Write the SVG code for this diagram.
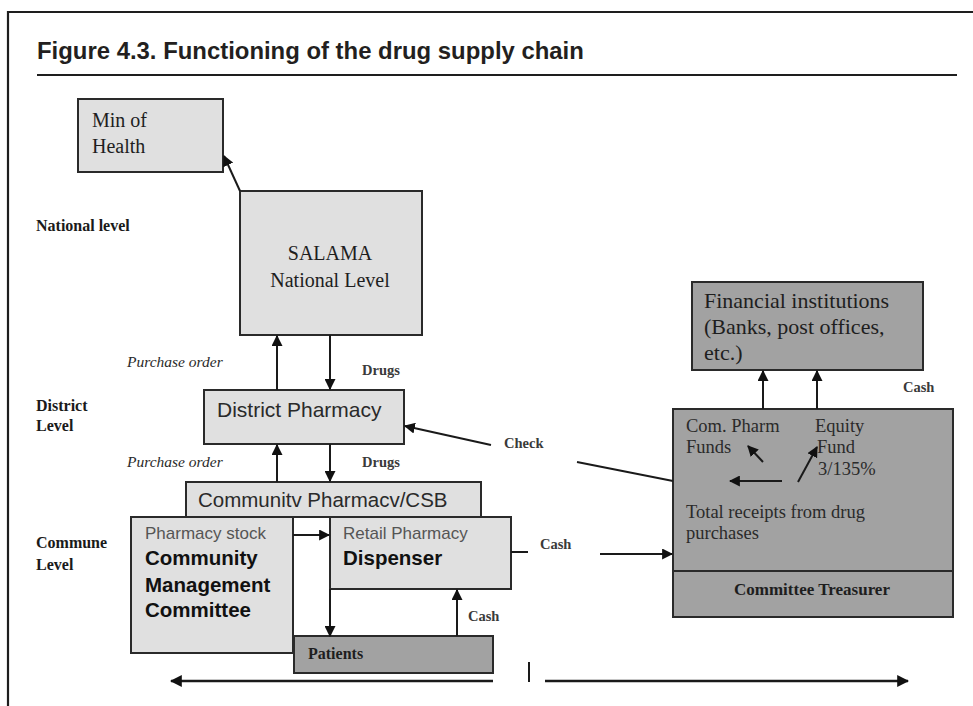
<svg xmlns="http://www.w3.org/2000/svg" width="973" height="706" viewBox="0 0 973 706">
<style>
.light{fill:#e0e0e0;stroke:#2a2a2a;stroke-width:2}
.dark{fill:#a2a2a2;stroke:#2a2a2a;stroke-width:2}
.ln{stroke:#1a1a1a;stroke-width:2;fill:none}
.serif{font-family:"Liberation Serif","Times New Roman",serif;fill:#1e1e1e}
.sans{font-family:"Liberation Sans",Arial,sans-serif}
.lvl{font-family:"Liberation Serif","Times New Roman",serif;font-weight:bold;font-size:16px;fill:#1a1a1a}
.po{font-family:"Liberation Serif","Times New Roman",serif;font-style:italic;font-size:15.5px;fill:#2a2a2a}
.lab{font-family:"Liberation Serif","Times New Roman",serif;font-weight:bold;font-size:14.5px;fill:#3a3a3a}
.big{font-size:20px}
.inner{font-size:18.5px;fill:#2a2a2a}
</style>
<defs>
<marker id="ah" viewBox="0 0 10 10" refX="9" refY="5" markerWidth="11" markerHeight="11" markerUnits="userSpaceOnUse" orient="auto">
<path d="M0,0 L10,5 L0,10 Z" fill="#111"/>
</marker>
<marker id="ahb" viewBox="0 0 10 10" refX="9" refY="5" markerWidth="12" markerHeight="12" markerUnits="userSpaceOnUse" orient="auto">
<path d="M0,0 L10,5 L0,10 Z" fill="#111"/>
</marker>
</defs>
<rect width="973" height="706" fill="#fff"/>
<g id="frame">
<path d="M8,706 V12 H973" fill="none" stroke="#1e1e1e" stroke-width="2.2"/>
<text x="37" y="59" font-family="Liberation Sans,Arial,sans-serif" font-weight="bold" font-size="23.9" fill="#231f20">Figure 4.3. Functioning of the drug supply chain</text>
<line x1="37" y1="75" x2="957" y2="75" stroke="#1e1e1e" stroke-width="2"/>
</g>
<g id="level-labels">
<text class="lvl" x="36" y="231">National level</text>
<text class="lvl" x="36" y="411">District</text>
<text class="lvl" x="36" y="431">Level</text>
<text class="lvl" x="36" y="548">Commune</text>
<text class="lvl" x="36" y="570">Level</text>
</g>
<g id="min-of-health">
<rect class="light" x="78" y="99" width="145" height="73"/>
<text class="serif big" x="92" y="127">Min of</text>
<text class="serif big" x="92" y="153">Health</text>
</g>
<g id="salama">
<rect class="light" x="240" y="191" width="182" height="144"/>
<text class="serif big" x="330" y="260" text-anchor="middle">SALAMA</text>
<text class="serif big" x="330" y="287" text-anchor="middle">National Level</text>
</g>
<g id="district-pharmacy">
<rect class="light" x="204" y="390" width="200" height="54"/>
<text class="sans" x="217" y="417" font-size="21" fill="#2a2a2a">District Pharmacy</text>
</g>
<g id="community-pharmacy">
<rect class="light" x="186" y="482" width="295" height="35"/>
<text class="sans" x="198" y="507" font-size="20.5" fill="#2a2a2a">Communitv Pharmacv/CSB</text>
</g>
<g id="community-management-committee">
<rect class="light" x="131" y="517" width="162" height="136"/>
<text class="sans" x="145" y="539" font-size="17" fill="#555">Pharmacy stock</text>
<text class="sans" x="145" y="565" font-size="20.5" font-weight="bold" fill="#111">Community</text>
<text class="sans" x="145" y="592" font-size="20.5" font-weight="bold" fill="#111">Management</text>
<text class="sans" x="145" y="617" font-size="20.5" font-weight="bold" fill="#111">Committee</text>
</g>
<g id="retail-pharmacy">
<rect class="light" x="330" y="517" width="181" height="72"/>
<text class="sans" x="343" y="539" font-size="17" fill="#555">Retail Pharmacy</text>
<text class="sans" x="343" y="565" font-size="20.5" font-weight="bold" fill="#111">Dispenser</text>
</g>
<g id="patients">
<rect class="dark" x="294" y="636" width="199" height="37"/>
<text class="serif" x="308" y="659" font-size="16" font-weight="bold" fill="#1a1a1a">Patients</text>
</g>
<g id="financial-institutions">
<rect class="dark" x="692" y="282" width="231" height="88"/>
<text class="serif" x="704" y="308" font-size="22" fill="#1a1a1a">Financial institutions</text>
<text class="serif" x="704" y="334" font-size="22" fill="#1a1a1a">(Banks, post offices,</text>
<text class="serif" x="704" y="360" font-size="22" fill="#1a1a1a">etc.)</text>
</g>
<g id="funds">
<rect class="dark" x="673" y="409" width="280" height="162"/>
<text class="serif inner" x="686" y="432">Com. Pharm</text>
<text class="serif inner" x="686" y="453">Funds</text>
<text class="serif inner" x="815" y="432">Equity</text>
<text class="serif inner" x="817" y="453">Fund</text>
<text class="serif inner" x="818" y="475">3/135%</text>
<text class="serif inner" x="686" y="518">Total receipts from drug</text>
<text class="serif inner" x="686" y="539">purchases</text>
</g>
<g id="committee-treasurer">
<rect class="dark" x="673" y="571" width="280" height="46"/>
<text class="serif" x="812" y="595" font-size="17" font-weight="bold" text-anchor="middle" fill="#1a1a1a">Committee Treasurer</text>
</g>
<g id="connectors">
<line class="ln" x1="240" y1="191" x2="224" y2="156" marker-end="url(#ah)"/>
<line class="ln" x1="277" y1="390" x2="277" y2="336" marker-end="url(#ah)"/>
<line class="ln" x1="330" y1="335" x2="330" y2="389" marker-end="url(#ah)"/>
<line class="ln" x1="277" y1="482" x2="277" y2="445" marker-end="url(#ah)"/>
<line class="ln" x1="330" y1="444" x2="330" y2="481" marker-end="url(#ah)"/>
<line class="ln" x1="491" y1="445" x2="405" y2="426" marker-end="url(#ah)"/>
<line class="ln" x1="577" y1="462" x2="673" y2="481"/>
<line class="ln" x1="293" y1="535" x2="329" y2="535" marker-end="url(#ah)"/>
<line class="ln" x1="330" y1="589" x2="330" y2="636" marker-end="url(#ah)"/>
<line class="ln" x1="457" y1="636" x2="457" y2="590" marker-end="url(#ah)"/>
<line class="ln" x1="511" y1="552" x2="528" y2="552"/>
<line class="ln" x1="600" y1="554" x2="672" y2="554" marker-end="url(#ah)"/>
<line class="ln" x1="763" y1="409" x2="763" y2="371" marker-end="url(#ah)"/>
<line class="ln" x1="817" y1="409" x2="817" y2="371" marker-end="url(#ah)"/>
<line class="ln" x1="763" y1="462" x2="748" y2="446" marker-end="url(#ah)"/>
<line class="ln" x1="798" y1="482" x2="817" y2="447" marker-end="url(#ah)"/>
<line class="ln" x1="782" y1="481" x2="730" y2="481" marker-end="url(#ah)"/>
<line x1="493" y1="681" x2="171" y2="681" stroke="#1a1a1a" stroke-width="2.5" marker-end="url(#ahb)"/>
<line x1="529" y1="662" x2="529" y2="682" stroke="#1a1a1a" stroke-width="2"/>
<line x1="545" y1="681" x2="908" y2="681" stroke="#1a1a1a" stroke-width="2.5" marker-end="url(#ahb)"/>
</g>
<g id="connector-labels">
<text class="po" x="127" y="367">Purchase order</text>
<text class="lab" x="362" y="375">Drugs</text>
<text class="po" x="127" y="467">Purchase order</text>
<text class="lab" x="362" y="467">Drugs</text>
<text class="lab" x="504" y="448">Check</text>
<text class="lab" x="540" y="549">Cash</text>
<text class="lab" x="468" y="621">Cash</text>
<text class="lab" x="903" y="392" font-size="13">Cash</text>
</g>
</svg>
